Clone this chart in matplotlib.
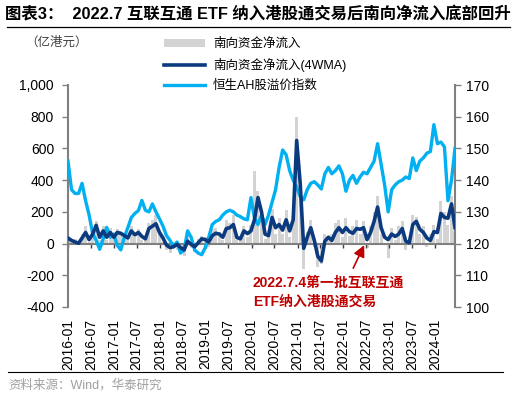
import matplotlib
matplotlib.use("Agg")
import matplotlib.pyplot as plt
import matplotlib.dates as mdates
from matplotlib.patches import Patch
from matplotlib.lines import Line2D
import pandas as pd

plt.rcParams['font.family'] = ['Liberation Sans', 'Noto Sans CJK SC', 'DejaVu Sans']

# ---------------- data (4-weekly samples) ----------------
start_date = "2016-01-01"
step = "28D"

# 南向资金净流入 (weekly, 亿港元)
flow_weekly = [40, 10, 30, -10, 60, 110, 10, 90, 140, 20,
               110, 20, 100, 30, 90, 60, 30, 20, 110, 40,
               90, 20, 50, 130, 150, 180, 60, 10, -40, -60,
               10, -40, -10, -80, 50, -30, -50, 30, 50, 40,
               -20, 90, 100, 70, 20, 150, 130, 180, 20, 50,
               110, 40, 120, 460, 330, 150, 30, 80, 220, 60,
               160, 60, 210, 40, 240, 800, 300, -160, 70, 150,
               -20, -150, -130, 60, 20, 60, 130, 150, 40, 160,
               50, 110, 150, 60, 140, -30, 110, 200, 300, 60,
               -10, -90, 100, 20, 110, 140, -40, 30, 180, 170,
               60, 110, -20, 60, 120, 30, 270, 200, 120, 300,
               80]

# 南向资金净流入(4WMA)
flow_4wma = [35, 20, 10, 2, 35, 70, 25, 60, 115, 40,
             80, 40, 70, 40, 70, 65, 50, 35, 80, 55,
             70, 45, 30, 95, 110, 125, 70, 35, -10, -25,
             -20, -5, -25, -40, 15, -5, -20, 5, 30, 25,
             10, 50, 65, 60, 40, 95, 100, 120, 38, 30,
             80, 63, 80, 150, 290, 200, 60, 50, 165, 100,
             120, 85, 150, 80, 150, 650, 380, -30, 40, 100,
             20, -80, -110, 15, 40, 20, 70, 100, 70, 100,
             75, 65, 95, 90, 100, 25, 70, 140, 230, 100,
             40, 25, 60, 45, 60, 95, 15, 5, 120, 140,
             90, 70, 35, 20, 75, 70, 190, 165, 160, 250,
             100]

# 恒生AH股溢价指数
ah_premium = [146, 137, 135.8, 135.8, 139, 133.5, 129, 123.2, 121, 118.2,
              121.5, 125.1, 122, 123, 119.5, 118, 122, 125, 128.2, 129.5,
              130.4, 133.6, 130.5, 130, 132.5, 130, 127.8, 125.5, 122.5, 121,
              119, 120.5, 117, 118, 124, 122, 118, 117, 116.5, 118.7,
              122, 126, 127, 127.5, 129, 130, 130.5, 130, 129, 128.5,
              127.8, 127.5, 134.5, 128, 126, 129, 126, 129, 133, 137,
              144, 149.5, 148, 143, 140, 137.7, 134.8, 133.8, 137, 139,
              139.5, 138.5, 137.2, 142, 144, 142, 143, 144.5, 142, 136.5,
              140, 141.5, 139, 141, 142.5, 142, 144, 146, 151.5, 145,
              138.5, 130, 137, 138.5, 139.5, 140, 141, 140.5, 147, 143,
              146, 147, 148.5, 149, 157.5, 151.5, 152, 150.5, 133.5, 140,
              150]

dates = pd.date_range(start_date, periods=len(ah_premium), freq=step)

tick_dates = pd.date_range("2016-01-01", "2024-01-01", freq="6MS")
left_ticks = [-400, -200, 0, 200, 400, 600, 800, 1000]
right_ticks = [100, 110, 120, 130, 140, 150, 160, 170]

title_text = "图表3：  2022.7 互联互通 ETF 纳入港股通交易后南向净流入底部回升"
unit_text = "（亿港元）"
legend_labels = ["南向资金净流入", "南向资金净流入(4WMA)", "恒生AH股溢价指数"]
note_text = "2022.7.4第一批互联互通\nETF纳入港股通交易"
note_date = pd.Timestamp("2022-06-15")
note_tail_date = pd.Timestamp("2022-03-20")
source_text = "资料来源：Wind，华泰研究"

# ---------------- styles ----------------
c_bar = "#d3d3d3"
c_dark = "#0b3a7e"
c_light = "#00b0f0"
c_spine = "#808080"
c_red = "#c00000"

fig = plt.figure(figsize=(5.16, 3.97), dpi=100)
ax = fig.add_axes([68/516, 1-307/397, (455-68)/516, (307-85)/397])

ax.bar(dates, flow_weekly, width=24, color=c_bar, linewidth=0, zorder=1)
ax.set_ylim(-400, 1000)
ax.set_yticks(left_ticks)
ax.yaxis.set_major_formatter(matplotlib.ticker.FuncFormatter(lambda v, p: f"{int(v):,}"))
ax.set_xlim(dates[0], dates[-1])

ax2 = ax.twinx()
ax2.plot(dates, ah_premium, color=c_light, lw=2.4, zorder=3)
ax2.set_ylim(100, 170)
ax2.set_yticks(right_ticks)

ax3 = ax.twinx()
ax3.plot(dates, flow_4wma, color=c_dark, lw=2.6, zorder=4)
ax3.set_ylim(-400, 1000)
ax3.axis('off')
ax3.set_xlim(dates[0], dates[-1])

# spines
for a in (ax, ax2):
    for s in a.spines.values():
        s.set_visible(False)
ax.spines['left'].set_visible(True)
ax.spines['left'].set_color(c_spine)
ax.spines['left'].set_linewidth(1.5)
ax2.spines['right'].set_visible(True)
ax2.spines['right'].set_color(c_spine)
ax2.spines['right'].set_linewidth(1.5)
ax.spines['bottom'].set_visible(True)
ax.spines['bottom'].set_position(('data', 0))
ax.spines['bottom'].set_color(c_spine)
ax.spines['bottom'].set_linewidth(1.5)
ax.spines['bottom'].set_zorder(2)

ax.tick_params(axis='y', direction='out', length=4, width=1, color=c_spine,
               labelsize=10, pad=6)
ax2.tick_params(axis='y', direction='out', length=4, width=1, color=c_spine,
                labelsize=10, pad=4)
ax.set_xticks(tick_dates)
ax.xaxis.set_major_formatter(mdates.DateFormatter("%Y-%m"))
ax.tick_params(axis='x', direction='out', length=3, width=1, color='#404040',
               labelsize=10, pad=51, labelrotation=90)
for lbl in ax.get_xticklabels():
    lbl.set_va('top')

# annotation
ax3.annotate("", xy=(note_date, -10), xytext=(note_tail_date, -155),
             arrowprops=dict(arrowstyle='-|>', color=c_red, lw=1.2,
                             mutation_scale=17, shrinkA=0, shrinkB=0))
ax3.text(0.478, 0.066, note_text, transform=ax3.transAxes, color=c_red,
         fontsize=10, fontweight='bold', ha='left', va='center', linespacing=1.45)

# legend
handles = [Patch(facecolor=c_bar, edgecolor='none'),
           Line2D([], [], color=c_dark, lw=2.6),
           Line2D([], [], color=c_light, lw=2.4)]
fig.legend(handles, legend_labels, loc='upper left',
           bbox_to_anchor=(164/516, 1-38/397), frameon=False, fontsize=9,
           handlelength=3.3, handleheight=0.55, handletextpad=0.6,
           labelspacing=0.62, borderpad=0, borderaxespad=0)

# header / footer
fig.text(5/516, 1-14/397, title_text, fontsize=11.8, fontweight='bold',
         ha='left', va='center', color='black')
fig.add_artist(Line2D([7/516, 510/516], [1-27/397, 1-27/397], color='black', lw=0.9))
fig.text(25/516, 1-43/397, unit_text, fontsize=9, ha='left', va='center', color='#404040')
fig.add_artist(Line2D([8/516, 503/516], [1-372/397, 1-372/397], color='black', lw=0.8))
fig.text(8/516, 1-385/397, source_text, fontsize=9, ha='left', va='center', color='#a0a0a0')

fig.savefig("out.png", dpi=100)
